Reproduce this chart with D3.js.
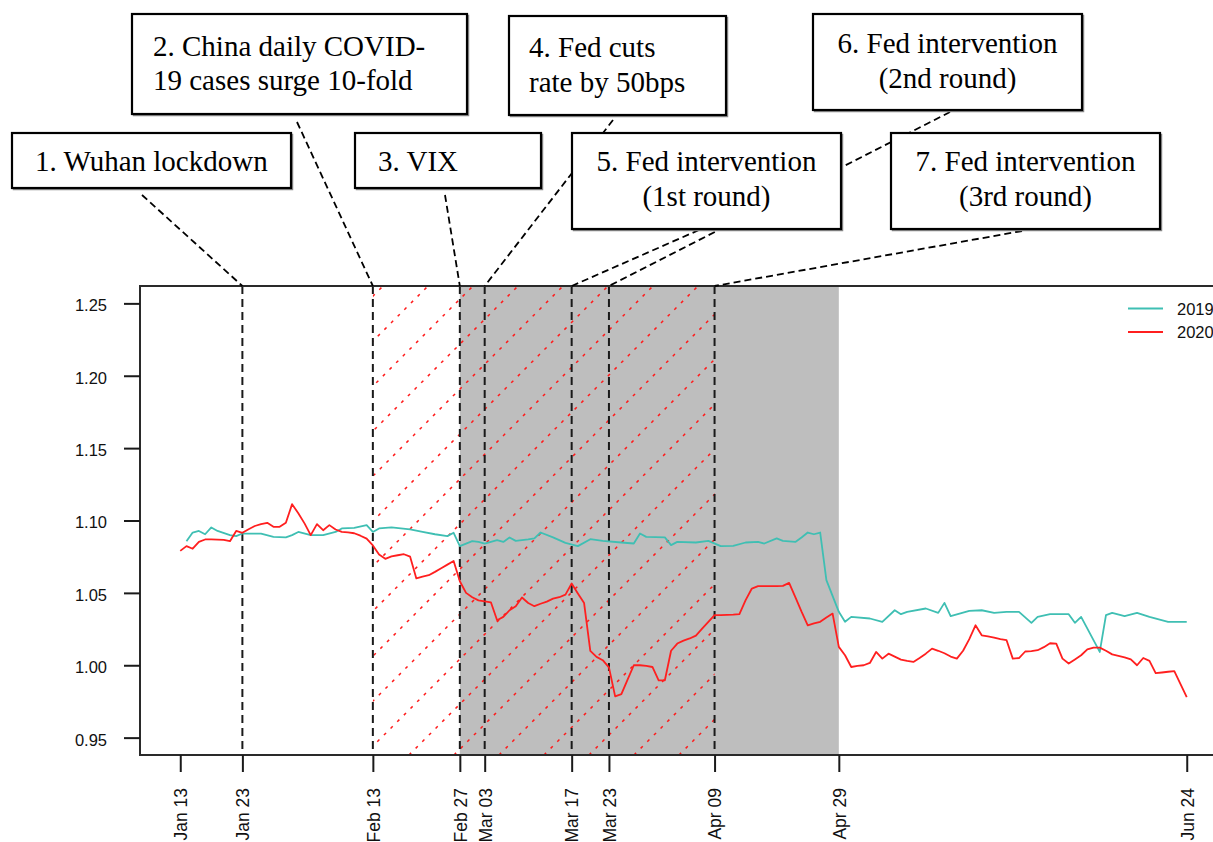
<!DOCTYPE html>
<html>
<head>
<meta charset="utf-8">
<script src="https://cdn.jsdelivr.net/npm/d3@7"></script>
<style>
  html, body { margin: 0; padding: 0; background: #fff; }
  svg { display: block; }
</style>
</head>
<body>
<svg id="chart" width="1213" height="842"></svg>
<script>
// ---- data ---------------------------------------------------------------
// Ratio series, indexed by calendar day (month and day only).
const series2019 = [
  ["Jan 14",1.0857],["Jan 15",1.0917],["Jan 16",1.0928],["Jan 17",1.0905],["Jan 18",1.0952],
  ["Jan 19",1.0928],["Jan 21",1.0899],["Jan 22",1.0892],["Jan 23",1.0910],["Jan 26",1.0910],
  ["Jan 28",1.0887],["Jan 30",1.0883],["Jan 31",1.0899],["Feb 01",1.0921],["Feb 03",1.0899],
  ["Feb 05",1.0899],["Feb 07",1.0921],["Feb 08",1.0945],["Feb 10",1.0949],["Feb 12",1.0968],
  ["Feb 13",1.0921],["Feb 14",1.0945],["Feb 16",1.0952],["Feb 19",1.0938],["Feb 21",1.0921],
  ["Feb 23",1.0905],["Feb 25",1.0892],["Feb 26",1.0915],["Feb 27",1.0823],["Mar 01",1.0857],
  ["Mar 02",1.0852],["Mar 03",1.0841],["Mar 05",1.0864],["Mar 06",1.0852],["Mar 07",1.0883],
  ["Mar 08",1.0859],["Mar 10",1.0869],["Mar 11",1.0876],["Mar 12",1.0917],["Mar 14",1.0883],
  ["Mar 16",1.0845],["Mar 18",1.0823],["Mar 20",1.0871],["Mar 22",1.0859],["Mar 25",1.0848],
  ["Mar 27",1.0841],["Mar 28",1.0910],["Mar 29",1.0887],["Apr 01",1.0883],["Apr 02",1.0830],
  ["Apr 03",1.0852],["Apr 06",1.0848],["Apr 08",1.0859],["Apr 10",1.0823],["Apr 12",1.0825],
  ["Apr 14",1.0848],["Apr 16",1.0852],["Apr 17",1.0841],["Apr 19",1.0876],["Apr 20",1.0859],
  ["Apr 22",1.0852],["Apr 23",1.0883],["Apr 24",1.0917],["Apr 25",1.0905],["Apr 26",1.0917],
  ["Apr 27",1.0588],["Apr 29",1.0369],["Apr 30",1.0300],["May 01",1.0334],["May 04",1.0323],
  ["May 06",1.0300],["May 08",1.0380],["May 09",1.0353],["May 10",1.0369],["May 13",1.0392],
  ["May 15",1.0362],["May 16",1.0431],["May 17",1.0339],["May 20",1.0376],["May 22",1.0380],
  ["May 24",1.0362],["May 26",1.0369],["May 28",1.0369],["May 30",1.0293],["May 31",1.0334],
  ["Jun 02",1.0353],["Jun 05",1.0353],["Jun 06",1.0293],["Jun 07",1.0334],["Jun 10",1.0092],
  ["Jun 11",1.0346],["Jun 12",1.0362],["Jun 14",1.0339],["Jun 16",1.0362],["Jun 18",1.0334],
  ["Jun 21",1.0300],["Jun 24",1.0300]
];

const series2020 = [
  ["Jan 13",1.0790],["Jan 14",1.0823],["Jan 15",1.0805],["Jan 16",1.0852],["Jan 17",1.0869],
  ["Jan 18",1.0869],["Jan 19",1.0868],["Jan 20",1.0866],["Jan 21",1.0857],["Jan 22",1.0928],
  ["Jan 23",1.0915],["Jan 24",1.0940],["Jan 25",1.0962],["Jan 26",1.0975],["Jan 27",1.0984],
  ["Jan 28",1.0956],["Jan 29",1.0956],["Jan 30",1.0984],["Jan 31",1.1113],["Feb 01",1.1050],
  ["Feb 02",1.0980],["Feb 03",1.0899],["Feb 04",1.0975],["Feb 05",1.0933],["Feb 06",1.0968],
  ["Feb 07",1.0938],["Feb 08",1.0921],["Feb 09",1.0918],["Feb 10",1.0912],["Feb 11",1.0895],
  ["Feb 12",1.0875],["Feb 13",1.0828],["Feb 14",1.0765],["Feb 15",1.0735],["Feb 16",1.0752],
  ["Feb 17",1.0760],["Feb 18",1.0767],["Feb 19",1.0750],["Feb 20",1.0600],["Feb 21",1.0612],
  ["Feb 22",1.0622],["Feb 23",1.0645],["Feb 24",1.0670],["Feb 25",1.0695],["Feb 26",1.0720],
  ["Feb 27",1.0580],["Feb 28",1.0500],["Mar 01",1.0470],["Mar 02",1.0448],["Mar 03",1.0442],
  ["Mar 04",1.0435],["Mar 05",1.0311],["Mar 06",1.0334],["Mar 07",1.0380],["Mar 08",1.0408],
  ["Mar 09",1.0468],["Mar 10",1.0430],["Mar 11",1.0408],["Mar 12",1.0425],["Mar 13",1.0440],
  ["Mar 14",1.0460],["Mar 15",1.0470],["Mar 16",1.0488],["Mar 17",1.0565],["Mar 18",1.0496],
  ["Mar 19",1.0430],["Mar 20",1.0100],["Mar 21",1.0058],["Mar 22",1.0035],["Mar 23",0.9985],
  ["Mar 24",0.9785],["Mar 25",0.9800],["Mar 26",0.9900],["Mar 27",1.0000],["Mar 28",1.0000],
  ["Mar 29",0.9995],["Mar 30",0.9988],["Mar 31",0.9896],["Apr 01",0.9896],["Apr 02",1.0100],
  ["Apr 03",1.0150],["Apr 04",1.0170],["Apr 05",1.0185],["Apr 06",1.0205],["Apr 07",1.0253],
  ["Apr 08",1.0300],["Apr 09",1.0346],["Apr 10",1.0346],["Apr 11",1.0348],["Apr 12",1.0350],
  ["Apr 13",1.0353],["Apr 14",1.0450],["Apr 15",1.0530],["Apr 16",1.0546],["Apr 17",1.0546],
  ["Apr 18",1.0546],["Apr 19",1.0546],["Apr 20",1.0548],["Apr 21",1.0569],["Apr 22",1.0470],
  ["Apr 23",1.0370],["Apr 24",1.0276],["Apr 25",1.0290],["Apr 26",1.0300],["Apr 27",1.0330],
  ["Apr 28",1.0357],["Apr 29",1.0127],["Apr 30",1.0069],["May 01",0.9988],["May 02",0.9995],
  ["May 03",1.0000],["May 04",1.0016],["May 05",1.0092],["May 06",1.0046],["May 07",1.0080],
  ["May 08",1.0060],["May 09",1.0039],["May 10",1.0030],["May 11",1.0023],["May 12",1.0050],
  ["May 13",1.0080],["May 14",1.0115],["May 15",1.0100],["May 16",1.0083],["May 17",1.0060],
  ["May 18",1.0046],["May 19",1.0100],["May 20",1.0180],["May 21",1.0276],["May 22",1.0207],
  ["May 23",1.0199],["May 24",1.0191],["May 25",1.0180],["May 26",1.0173],["May 27",1.0046],
  ["May 28",1.0050],["May 29",1.0095],["May 30",1.0098],["May 31",1.0104],["Jun 01",1.0125],
  ["Jun 02",1.0152],["Jun 03",1.0150],["Jun 04",1.0046],["Jun 05",1.0012],["Jun 06",1.0040],
  ["Jun 07",1.0069],["Jun 08",1.0110],["Jun 09",1.0122],["Jun 10",1.0122],["Jun 11",1.0100],
  ["Jun 12",1.0075],["Jun 13",1.0065],["Jun 14",1.0055],["Jun 15",1.0040],["Jun 16",1.0000],
  ["Jun 17",1.0050],["Jun 18",1.0030],["Jun 19",0.9945],["Jun 20",0.9950],["Jun 21",0.9955],
  ["Jun 22",0.9960],["Jun 23",0.9870],["Jun 24",0.9780]
];

const seriesNames = ["2019", "2020"];
const seriesColors = ["#3fbfb3", "#ff1f1f"];

const xTickLabels = ["Jan 13","Jan 23","Feb 13","Feb 27","Mar 03","Mar 17","Mar 23","Apr 09","Apr 29","Jun 24"];
const yTickValues = [0.95, 1.00, 1.05, 1.10, 1.15, 1.20, 1.25];
const xRange = ["Jan 13", "Jun 24"];
const yRange = [0.95, 1.25];

// Event markers and their captions
const eventDates = ["Jan 23","Feb 13","Feb 27","Mar 03","Mar 17","Mar 23","Apr 09"];
const eventCaptions = [
  ["1. Wuhan lockdown"],
  ["2. China daily COVID-", "19 cases surge 10-fold"],
  ["3. VIX"],
  ["4. Fed cuts", "rate by 50bps"],
  ["5. Fed intervention", "(1st round)"],
  ["6. Fed intervention", "(2nd round)"],
  ["7. Fed intervention", "(3rd round)"]
];

// Shaded periods
const grayPeriod = ["Feb 27", "Apr 29"];
const hatchPeriod = ["Feb 13", "Apr 09"];

// ---- layout -------------------------------------------------------------
const W = 1213, H = 842;
const plot = { left: 140, right: 1227, top: 286, bottom: 755 };
const axisFont = "Liberation Sans, Arial, sans-serif";
const axisFontSize = 16.5;

// caption boxes: rect, text anchor, baselines, connector start
const captionBoxes = [
  { x: 12,  y: 133, w: 279, h: 55,  anchor: "start",  tx: 35,     base: [171],      from: [142, 195] },
  { x: 132, y: 14,  w: 335, h: 100, anchor: "start",  tx: 153,    base: [56, 90],   from: [297, 122] },
  { x: 355, y: 133, w: 186, h: 55,  anchor: "start",  tx: 378,    base: [171],      from: [445, 195] },
  { x: 509, y: 16,  w: 217, h: 99,  anchor: "start",  tx: 529,    base: [57, 92],   from: [613, 120] },
  { x: 572, y: 133, w: 269, h: 96,  anchor: "middle", tx: 706.5,  base: [171, 206], from: [699, 230] },
  { x: 813, y: 14,  w: 269, h: 96,  anchor: "middle", tx: 947.5,  base: [53, 88],   from: [950, 112] },
  { x: 891, y: 133, w: 269, h: 96,  anchor: "middle", tx: 1025.5, base: [171, 206], from: [1022, 231] }
];

// ---- scales -------------------------------------------------------------
const parseDay = s => d3.utcParse("%Y %b %d")("2019 " + s);
const x0 = parseDay(xRange[0]), x1 = parseDay(xRange[1]);
const xPad = (x1 - x0) * 0.04;
const x = d3.scaleUtc()
  .domain([new Date(+x0 - xPad), new Date(+x1 + xPad)])
  .range([plot.left, plot.right]);
const yPad = (yRange[1] - yRange[0]) * 0.04;
const y = d3.scaleLinear()
  .domain([yRange[0] - yPad, yRange[1] + yPad])
  .range([plot.bottom, plot.top]);

const svg = d3.select("#chart");

svg.append("defs").append("clipPath").attr("id", "hatch-clip")
  .append("rect")
  .attr("x", x(parseDay(hatchPeriod[0])))
  .attr("y", plot.top)
  .attr("width", x(parseDay(hatchPeriod[1])) - x(parseDay(hatchPeriod[0])))
  .attr("height", plot.bottom - plot.top);

// ---- shaded periods -----------------------------------------------------
svg.append("rect")
  .attr("x", x(parseDay(grayPeriod[0])))
  .attr("y", plot.top)
  .attr("width", x(parseDay(grayPeriod[1])) - x(parseDay(grayPeriod[0])))
  .attr("height", plot.bottom - plot.top)
  .attr("fill", "#bebebe");

// diagonal hatching (45 degrees, dotted red)
const hx0 = x(parseDay(hatchPeriod[0])), hx1 = x(parseDay(hatchPeriod[1]));
const spacing = 45, phase = 39;
const cStart = Math.floor((hx0 + plot.top) / spacing) * spacing + phase - spacing;
const hatchG = svg.append("g").attr("clip-path", "url(#hatch-clip)");
for (let c = cStart; c <= hx1 + plot.bottom + spacing; c += spacing) {
  hatchG.append("line")
    .attr("x1", c - plot.bottom).attr("y1", plot.bottom)
    .attr("x2", c - plot.top).attr("y2", plot.top)
    .attr("stroke", "#ff1a1a")
    .attr("stroke-width", 1.5)
    .attr("stroke-dasharray", "3,6.4");
}

// ---- event lines --------------------------------------------------------
svg.append("g").selectAll("line").data(eventDates).join("line")
  .attr("x1", d => x(parseDay(d))).attr("x2", d => x(parseDay(d)))
  .attr("y1", plot.top).attr("y2", plot.bottom)
  .attr("stroke", "#1a1a1a")
  .attr("stroke-width", 2)
  .attr("stroke-dasharray", "8,5");

// ---- series -------------------------------------------------------------
const line = d3.line()
  .x(d => x(parseDay(d[0])))
  .y(d => y(d[1]));

[series2019, series2020].forEach((s, i) => {
  svg.append("path")
    .datum(s)
    .attr("d", line)
    .attr("fill", "none")
    .attr("stroke", seriesColors[i])
    .attr("stroke-width", 1.8)
    .attr("stroke-linejoin", "round");
});

// ---- frame & axes -------------------------------------------------------
svg.append("rect")
  .attr("x", plot.left).attr("y", plot.top)
  .attr("width", plot.right - plot.left)
  .attr("height", plot.bottom - plot.top)
  .attr("fill", "none")
  .attr("stroke", "#2a2a2a")
  .attr("stroke-width", 2);

const yAxis = svg.append("g")
  .attr("transform", `translate(${plot.left},0)`)
  .call(d3.axisLeft(y).tickValues(yTickValues).tickFormat(d3.format(".2f"))
    .tickSize(16).tickPadding(17));
yAxis.select(".domain").remove();
yAxis.selectAll(".tick line").attr("stroke", "#1a1a1a").attr("stroke-width", 2);
yAxis.selectAll(".tick text")
  .attr("font-family", axisFont)
  .attr("font-size", axisFontSize).attr("fill", "#111").attr("dy", "0.45em");

const xAxis = svg.append("g")
  .attr("transform", `translate(0,${plot.bottom})`)
  .call(d3.axisBottom(x).tickValues(xTickLabels.map(parseDay))
    .tickFormat((d, i) => xTickLabels[i]).tickSize(17));
xAxis.select(".domain").remove();
xAxis.selectAll(".tick line").attr("stroke", "#1a1a1a").attr("stroke-width", 2);
xAxis.selectAll(".tick text")
  .attr("font-family", axisFont)
  .attr("font-size", 17.5).attr("fill", "#111")
  .attr("transform", "rotate(-90)")
  .attr("text-anchor", "end")
  .attr("x", -33).attr("y", 0).attr("dy", "0.36em");

// ---- legend -------------------------------------------------------------
const legend = svg.append("g");
seriesNames.forEach((name, i) => {
  const ly = 308.5 + i * 23.5;
  legend.append("line")
    .attr("x1", 1128).attr("x2", 1163).attr("y1", ly).attr("y2", ly)
    .attr("stroke", seriesColors[i]).attr("stroke-width", 2);
  legend.append("text")
    .attr("x", 1177).attr("y", ly).attr("dy", "0.38em")
    .attr("font-family", axisFont)
    .attr("font-size", axisFontSize).attr("fill", "#111")
    .text(name);
});

// ---- caption connectors & boxes ----------------------------------------
const notes = svg.append("g");
captionBoxes.forEach((b, i) => {
  notes.append("line")
    .attr("x1", b.from[0]).attr("y1", b.from[1])
    .attr("x2", x(parseDay(eventDates[i]))).attr("y2", plot.top)
    .attr("stroke", "#000").attr("stroke-width", 1.8)
    .attr("stroke-dasharray", "7,4");
});
captionBoxes.forEach((b, i) => {
  const g = notes.append("g");
  g.append("rect")
    .attr("x", b.x + 1.5).attr("y", b.y + 1.5).attr("width", b.w).attr("height", b.h)
    .attr("fill", "none").attr("stroke", "#8a8a8a").attr("stroke-width", 1.5);
  g.append("rect")
    .attr("x", b.x).attr("y", b.y).attr("width", b.w).attr("height", b.h)
    .attr("fill", "#fff").attr("stroke", "#000").attr("stroke-width", 2.2);
  eventCaptions[i].forEach((t, j) => {
    g.append("text")
      .attr("x", b.tx).attr("y", b.base[j])
      .attr("text-anchor", b.anchor)
      .attr("font-family", "Liberation Serif, Times New Roman, serif")
      .attr("font-size", 29).attr("fill", "#000")
      .text(t);
  });
});
</script>
</body>
</html>
